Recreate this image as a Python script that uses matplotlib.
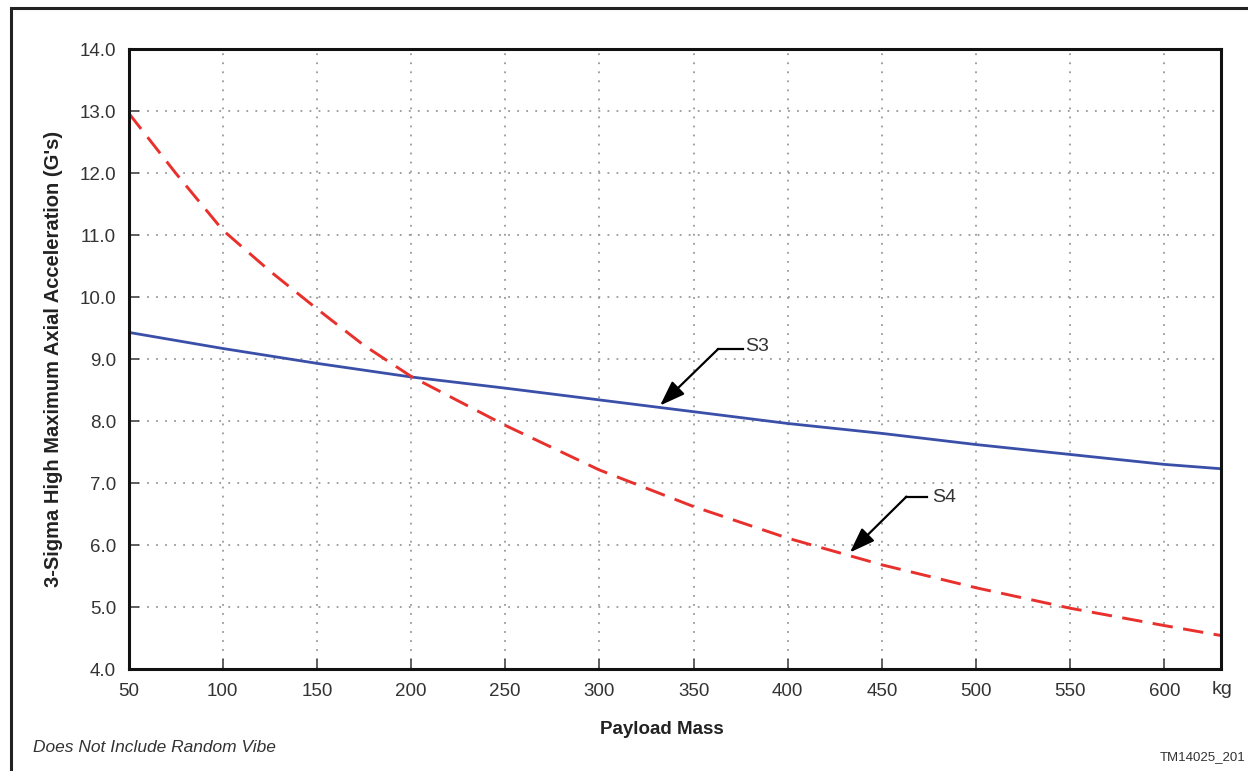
import matplotlib
matplotlib.use("Agg")
import matplotlib.pyplot as plt
from matplotlib.patches import Rectangle

# values
mass_s3 = [50, 100, 150, 200, 250, 300, 350, 400, 450, 500, 550, 600, 630]
s3 = [9.43, 9.17, 8.93, 8.71, 8.53, 8.34, 8.15, 7.96, 7.80, 7.62, 7.46, 7.30, 7.23]

mass_s4 = [50, 75, 100, 125, 150, 175, 200, 250, 300, 350, 400, 450, 500, 550, 600, 630]
s4 = [12.97, 12.00, 11.08, 10.42, 9.81, 9.22, 8.72, 7.93, 7.21, 6.62, 6.11, 5.68, 5.31, 4.98, 4.70, 4.54]

xticks = [50, 100, 150, 200, 250, 300, 350, 400, 450, 500, 550, 600]
yticks = [4.0, 5.0, 6.0, 7.0, 8.0, 9.0, 10.0, 11.0, 12.0, 13.0, 14.0]

plt.rcParams['font.family'] = ['Liberation Sans', 'DejaVu Sans']
dark = '#333333'

W, H = 1248, 771
fig = plt.figure(figsize=(W / 100, H / 100), dpi=100)
# outer frame of the figure
fig.patches.append(Rectangle((11 / W, -0.1), 1.2, 1 - 8 / H + 0.1,
                             transform=fig.transFigure, fill=False,
                             edgecolor='#222222', lw=2.2))

ax = fig.add_axes([128.5 / W, 1 - 669 / H, (1221 - 128.5) / W, (669 - 49) / H])
ax.plot(mass_s3, s3, color='#3a4fa8', lw=2.0)
ax.plot(mass_s4, s4, color='#e8302c', lw=2.1, dashes=(7, 3.6))

ax.set_xlim(50, 630)
ax.set_ylim(4, 14)
ax.set_xticks(xticks)
ax.set_yticks(yticks)
ax.set_xticklabels([str(t) for t in xticks])
ax.set_yticklabels(['%.1f' % t for t in yticks])
ax.tick_params(direction='in', length=7, width=1.2, color='#444444',
               labelsize=13.5, labelcolor=dark)
ax.tick_params(axis='x', pad=10)
ax.tick_params(axis='y', pad=9)
ax.grid(True, color='#999999', linestyle=(0, (1, 4)), lw=1.3)
for s in ax.spines.values():
    s.set_linewidth(2.2)
    s.set_color('#111111')

fig.text(1222 / W, 1 - 690 / H, 'kg', fontsize=14, color=dark, ha='center', va='center')
fig.text(662 / W, 1 - 730 / H, 'Payload Mass', fontsize=13.5, fontweight='bold',
         color='#222222', ha='center', va='center')
ax.set_ylabel("3-Sigma High Maximum Axial Acceleration (G's)", fontsize=14.5,
              fontweight='bold', color='#222222', labelpad=12)

# callouts
arrow = dict(arrowstyle='-|>,head_length=0.7,head_width=0.25', color='black',
             lw=1.6, mutation_scale=22, shrinkA=0, shrinkB=0)
ax.annotate('', xy=(332.2, 8.25), xytext=(363, 9.16), arrowprops=arrow)
ax.plot([363, 376], [9.16, 9.16], color='black', lw=1.6)
ax.text(377.5, 9.20, 'S3', fontsize=14, color=dark, va='center')

ax.annotate('', xy=(433, 5.88), xytext=(463, 6.78), arrowprops=arrow)
ax.plot([463, 474], [6.78, 6.78], color='black', lw=1.6)
ax.text(476.5, 6.76, 'S4', fontsize=14, color=dark, va='center')

fig.text(33 / W, 1 - 748 / H, 'Does Not Include Random Vibe', fontsize=12.5,
         style='italic', color=dark, va='center')
fig.text(1245 / W, 1 - 757 / H, 'TM14025_201', fontsize=9.5, color=dark,
         ha='right', va='center')

fig.savefig('out.png', dpi=100)
